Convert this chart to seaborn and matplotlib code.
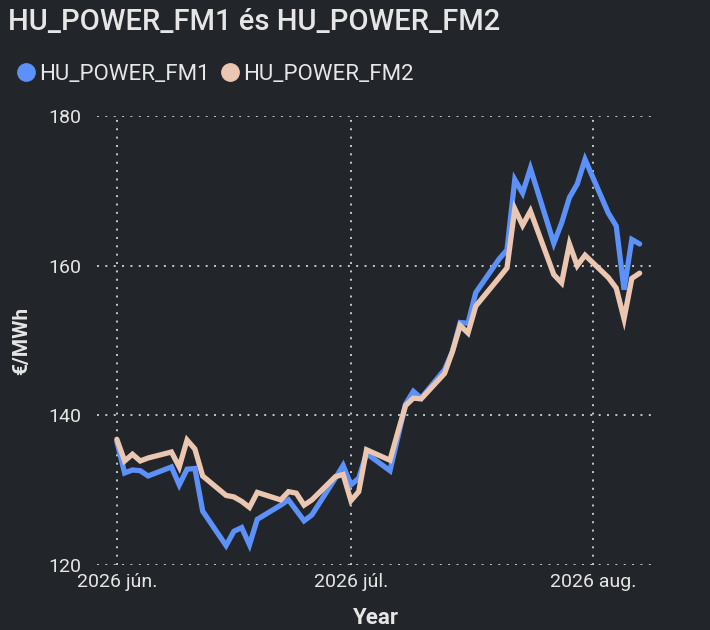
import matplotlib
matplotlib.use("Agg")
import matplotlib.pyplot as plt
from matplotlib.lines import Line2D
import seaborn as sns
import pandas as pd

dates = ["2026-06-01", "2026-06-02", "2026-06-03", "2026-06-04", "2026-06-05",
         "2026-06-08", "2026-06-09", "2026-06-10", "2026-06-11", "2026-06-12",
         "2026-06-15", "2026-06-16", "2026-06-17", "2026-06-18", "2026-06-19",
         "2026-06-22", "2026-06-23", "2026-06-24", "2026-06-25", "2026-06-26",
         "2026-06-29", "2026-06-30", "2026-07-01", "2026-07-02", "2026-07-03",
         "2026-07-06", "2026-07-07", "2026-07-08", "2026-07-09", "2026-07-10",
         "2026-07-13", "2026-07-14", "2026-07-15", "2026-07-16", "2026-07-17",
         "2026-07-20", "2026-07-21", "2026-07-22", "2026-07-23", "2026-07-24",
         "2026-07-27", "2026-07-28", "2026-07-29", "2026-07-30", "2026-07-31",
         "2026-08-03", "2026-08-04", "2026-08-05", "2026-08-06", "2026-08-07"]

fm1 = [136.5, 132.3, 132.7, 132.6, 131.9,
       133.1, 130.7, 132.8, 132.9, 127.2,
       122.6, 124.5, 125.0, 122.7, 126.1,
       128.0, 128.7, 127.3, 125.9, 126.7,
       131.6, 133.3, 130.7, 131.6, 134.9,
       132.6, 137.0, 141.5, 143.2, 142.3,
       146.1, 148.5, 152.4, 152.3, 156.4,
       160.9, 162.1, 171.5, 169.7, 173.0,
       163.0, 165.7, 169.1, 170.9, 174.2,
       167.0, 165.3, 156.8, 163.5, 162.9]

fm2 = [136.8, 133.9, 134.8, 133.9, 134.3,
       135.1, 133.1, 136.7, 135.5, 131.9,
       129.3, 129.1, 128.5, 127.7, 129.7,
       128.7, 129.8, 129.6, 128.0, 128.7,
       131.8, 132.1, 128.6, 129.8, 135.4,
       134.0, 137.7, 141.3, 142.3, 142.2,
       145.6, 148.5, 152.0, 151.0, 154.6,
       158.4, 159.7, 167.6, 165.4, 167.3,
       158.8, 157.7, 162.9, 160.0, 161.4,
       158.4, 157.0, 152.9, 158.3, 159.0]

series_names = ["HU_POWER_FM1", "HU_POWER_FM2"]
colors = ["#5b91f9", "#ebc6b1"]
tick_dates = ["2026-06-01", "2026-07-01", "2026-08-01"]
tick_labels = ["2026 jún.", "2026 júl.", "2026 aug."]
y_ticks = [120, 140, 160, 180]

bg = "#222529"
txt = "#e6e6e6"

sns.set_theme(style="dark")
plt.rcParams["font.family"] = ["Roboto", "DejaVu Sans"]

df = pd.DataFrame({
    "date": pd.to_datetime(dates * 2),
    "value": fm1 + fm2,
    "series": [series_names[0]] * len(dates) + [series_names[1]] * len(dates),
})

fig = plt.figure(figsize=(7.1, 6.3), dpi=100, facecolor=bg)
ax = fig.add_axes([97 / 710, 1 - 565 / 630, 555 / 710, 449 / 630])
ax.set_facecolor(bg)

sns.lineplot(data=df, x="date", y="value", hue="series", palette=colors,
             hue_order=series_names, linewidth=3.8, ax=ax, legend=False,
             solid_joinstyle="miter", solid_capstyle="round")

ax.set_ylim(120, 180)
ax.set_xlim(pd.Timestamp("2026-05-29 11:00"), pd.Timestamp("2026-08-08 14:00"))
ax.set_yticks(y_ticks)
ax.set_xticks(pd.to_datetime(tick_dates))
ax.set_xticklabels(tick_labels)

ax.grid(True, color="#c8c8c8", linestyle=(0, (1, 3.3)), linewidth=1.4)
ax.set_axisbelow(True)
for s in ax.spines.values():
    s.set_visible(False)
ax.tick_params(axis="both", length=0, colors=txt, labelsize=14)
ax.tick_params(axis="y", pad=11)
ax.tick_params(axis="x", pad=6)

ax.set_ylabel("€/MWh", color=txt, fontsize=15, fontweight="bold")
ax.set_xlabel("Year", color=txt, fontsize=16, fontweight="bold")
ax.yaxis.set_label_coords(-0.118, 0.5)
ax.xaxis.set_label_coords(0.503, -0.094)

fig.text(8 / 710, 1 - 22 / 630, "HU_POWER_FM1 és HU_POWER_FM2", color=txt,
         fontsize=21, fontweight="medium", va="center", ha="left")

handles = [Line2D([], [], linestyle="none", marker="o", markersize=12.5,
                  markerfacecolor=c, markeredgecolor=c) for c in colors]
fig.legend(handles, series_names, loc="center left",
           bbox_to_anchor=(-3 / 710, 1 - 74 / 630), ncol=2, frameon=False,
           fontsize=16, labelcolor=txt, handletextpad=0.0,
           columnspacing=0.3, handlelength=1.2, borderpad=0.2)

fig.savefig("out.png", dpi=100, facecolor=bg)
